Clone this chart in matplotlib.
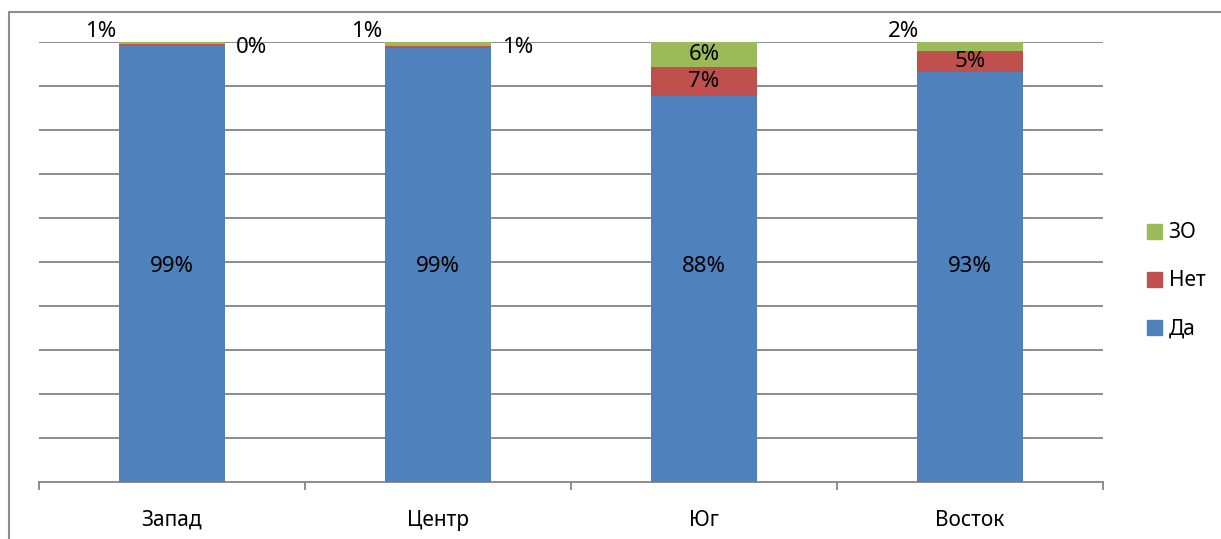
import numpy as np
import matplotlib
matplotlib.use('Agg')
import matplotlib.pyplot as plt
from matplotlib.patches import Rectangle, Patch

plt.rcParams['font.family'] = ['Noto Sans', 'DejaVu Sans']

# shares per region, percent
regions = ['Запад', 'Центр', 'Юг', 'Восток']
da  = [99.3, 98.6, 87.8, 93.2]
net = [0.2, 0.6, 6.6, 4.8]
zo  = [0.6, 0.8, 5.6, 2.0]

C_DA, C_NET, C_ZO = '#4F81BD', '#C0504D', '#9BBB59'
GRID = '#8c8c8c'

fig = plt.figure(figsize=(12.21, 5.39), dpi=100)
ax = fig.add_axes([39 / 1221, 57 / 539, 1064 / 1221, 440 / 539])

x = np.arange(len(regions))
w = 0.395
da_a, net_a, zo_a = map(np.array, (da, net, zo))
ax.bar(x, da_a, w, color=C_DA, zorder=3)
ax.bar(x, net_a, w, bottom=da_a, color=C_NET, zorder=3)
ax.bar(x, zo_a, w, bottom=da_a + net_a, color=C_ZO, zorder=3)

ax.set_xlim(-0.5, 3.5)
ax.set_ylim(0, 100)
for g in range(10, 101, 10):
    ax.axhline(g, color=GRID, lw=1.4, zorder=1)
for s in ('left', 'right', 'top'):
    ax.spines[s].set_visible(False)
ax.spines['bottom'].set_color(GRID)
ax.spines['bottom'].set_linewidth(1.4)
ax.set_yticks([])

ax.set_xticks(x)
ax.set_xticklabels(regions, fontsize=15)
ax.tick_params(axis='x', which='major', length=0, pad=20)
ax.set_xticks(np.arange(-0.5, 3.6, 1), minor=True)
ax.tick_params(axis='x', which='minor', length=6, width=1.4, color=GRID)

fmt = lambda v: f'{v:.0f}%'
fs = 16
# "Да" labels in the body of each bar
for i, v in enumerate(da):
    ax.text(x[i], 49.0, fmt(v), ha='center', va='center', fontsize=fs, zorder=4)

# thin segments: labels pulled outside the bar
ax.text(x[0] - 0.27, 102.3, fmt(zo[0]), ha='center', va='center', fontsize=fs)
ax.text(x[0] + 0.3, 98.8, fmt(net[0]), ha='center', va='center', fontsize=fs)
ax.text(x[1] - 0.27, 102.3, fmt(zo[1]), ha='center', va='center', fontsize=fs)
ax.text(x[1] + 0.3, 98.8, fmt(net[1]), ha='center', va='center', fontsize=fs)
ax.text(x[3] - 0.25, 102.3, fmt(zo[3]), ha='center', va='center', fontsize=fs)

# wide enough segments: centred labels
for i in (2,):
    ax.text(x[i], da[i] + net[i] + zo[i] / 2, fmt(zo[i]), ha='center', va='center', fontsize=fs, zorder=4)
for i in (2, 3):
    ax.text(x[i], da[i] + net[i] / 2, fmt(net[i]), ha='center', va='center', fontsize=fs, zorder=4)

handles = [Patch(color=C_ZO), Patch(color=C_NET), Patch(color=C_DA)]
fig.legend(handles, ['ЗО', 'Нет', 'Да'], loc='center left',
           bbox_to_anchor=(1128 / 1221, 1 - 281 / 539), frameon=False,
           fontsize=15, handlelength=0.75, handleheight=0.75,
           handletextpad=0.3, labelspacing=1.3)

# outer chart frame
fig.add_artist(Rectangle((9 / 1221, -0.1), 1.2, (539 - 12) / 539 + 0.1,
                         transform=fig.transFigure, fill=False,
                         edgecolor=GRID, lw=1.5))

fig.savefig('out.png', dpi=100)
